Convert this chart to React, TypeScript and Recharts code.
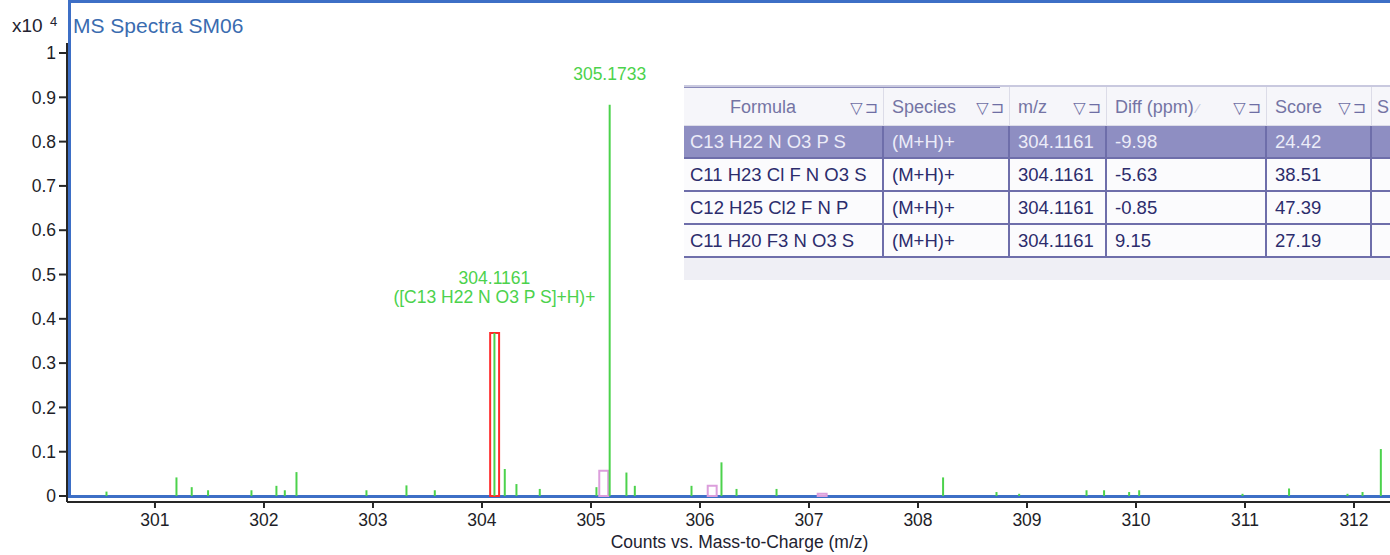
import React from 'react';
import { ComposedChart, Bar, XAxis, YAxis, ReferenceArea, LabelList } from 'recharts';

// ---- data (counts in units of x10^4) ----
const peakMz = [
  300.557, 301.199, 301.339, 301.489, 301.887, 302.116, 302.193, 302.3, 302.942, 303.309,
  303.569, 304.1161, 304.211, 304.318, 304.532, 305.052, 305.1733, 305.327, 305.404, 305.924,
  306.199, 306.337, 306.704, 308.232, 308.722, 308.93, 309.548, 309.709, 309.939, 310.031,
  310.979, 311.406, 311.942, 312.08, 312.248,
];
const peakCounts = [
  0.01, 0.042, 0.02, 0.013, 0.013, 0.023, 0.013, 0.054, 0.013, 0.024,
  0.013, 0.368, 0.061, 0.027, 0.016, 0.02, 0.883, 0.053, 0.023, 0.023,
  0.076, 0.016, 0.016, 0.042, 0.009, 0.005, 0.013, 0.013, 0.009, 0.013,
  0.005, 0.017, 0.005, 0.009, 0.106,
];

const annotatedMz = [304.1161, 305.1733];
const annotationLines = [['304.1161', '([C13 H22 N O3 P S]+H)+'], ['305.1733']];

const matchedMz = [304.1161];
const matchedCounts = [0.368];
const predictedMz = [305.117, 306.112, 307.121];
const predictedCounts = [0.057, 0.023, 0.005];

const xTicks = [301, 302, 303, 304, 305, 306, 307, 308, 309, 310, 311, 312];
const xTickLabels = ['301', '302', '303', '304', '305', '306', '307', '308', '309', '310', '311', '312'];
const yTicks = [0, 0.1, 0.2, 0.3, 0.4, 0.5, 0.6, 0.7, 0.8, 0.9, 1];
const yTickLabels = ['0', '0.1', '0.2', '0.3', '0.4', '0.5', '0.6', '0.7', '0.8', '0.9', '1'];

const tableHeaders = ['Formula', 'Species', 'm/z', 'Diff (ppm)', 'Score', 'S'];
const tableFormula = ['C13 H22 N O3 P S', 'C11 H23 Cl F N O3 S', 'C12 H25 Cl2 F N P', 'C11 H20 F3 N O3 S'];
const tableSpecies = ['(M+H)+', '(M+H)+', '(M+H)+', '(M+H)+'];
const tableMz = ['304.1161', '304.1161', '304.1161', '304.1161'];
const tableDiff = ['-9.98', '-5.63', '-0.85', '9.15'];
const tableScore = ['24.42', '38.51', '47.39', '27.19'];

const peakData = peakMz.map((mz, i) => ({ mz, counts: peakCounts[i] }));

// ---- styles ----
const FONT = '"Liberation Sans", Arial, sans-serif';
const GREEN = '#4cd24c';
const AXIS = '#262626';
const BOX_HALF_WIDTH = 0.041;
const colWidths = [200, 126, 97, 160, 105, 80];

const renderPeakLabel = (props: any) => {
  const { x, y, width, index } = props;
  const mz = peakData[index]?.mz;
  const j = annotatedMz.indexOf(mz);
  if (j < 0) return null;
  const lines = annotationLines[j];
  const cx = Number(x) + Number(width) / 2;
  const lastBaseline = Number(y) - 25 - 5 * (lines.length - 1);
  return (
    <g>
      {lines.map((t, k) => (
        <text
          key={k}
          x={cx}
          y={lastBaseline - (lines.length - 1 - k) * 19}
          textAnchor="middle"
          fill={GREEN}
          fontSize={17.5}
          fontFamily={FONT}
        >
          {t}
        </text>
      ))}
    </g>
  );
};

const HeaderIcon = () => (
  <span style={{ color: '#6e6ea4', fontSize: 16, fontFamily: '"DejaVu Sans", sans-serif', whiteSpace: 'nowrap' }}>
    ▽<span style={{ marginLeft: 2 }}>⊐</span>
  </span>
);

const ResultTable = () => {
  const rows = tableFormula.map((f, i) => [f, tableSpecies[i], tableMz[i], tableDiff[i], tableScore[i], '']);
  return (
    <div
      style={{
        position: 'absolute',
        left: 684,
        top: 85,
        width: 720,
        height: 195,
        background: '#efeff5',
        borderTop: '2px solid #c9c9df',
        boxSizing: 'border-box',
        fontFamily: FONT,
        overflow: 'hidden',
      }}
    >
      <div style={{ position: 'absolute', left: 0, top: 0, width: 316, height: 1, background: '#8a8aba' }} />
      {/* header */}
      <div style={{ display: 'flex', height: 39, background: '#f6f6fa', borderBottom: '1px solid #dcdce8', boxSizing: 'border-box' }}>
        {tableHeaders.map((h, c) => (
          <div
            key={c}
            style={{
              width: colWidths[c],
              flexShrink: 0,
              boxSizing: 'border-box',
              borderRight: c < 5 ? '1px solid #dcdce8' : 'none',
              display: 'flex',
              alignItems: 'center',
              justifyContent: c === 5 ? 'flex-start' : 'space-between',
              paddingLeft: c === 0 ? 46 : c === 5 ? 5 : 8,
              paddingRight: 5,
              paddingTop: 2,
              color: '#7474a4',
              fontSize: 18,
              whiteSpace: 'nowrap',
              overflow: 'hidden',
            }}
          >
            <span>
              {h}
              {c === 3 ? <span style={{ color: '#c0c0d8', fontSize: 13, marginLeft: 3 }}>⁄</span> : null}
            </span>
            {c < 5 ? <HeaderIcon /> : null}
          </div>
        ))}
      </div>
      {rows.map((r, i) => (
        <div
          key={i}
          style={{
            display: 'flex',
            height: 33,
            borderBottom: '2px solid #6e6eaa',
            boxSizing: 'border-box',
            background: i === 0 ? '#8e8ec2' : '#fbfbfd',
          }}
        >
          {r.map((v, c) => (
            <div
              key={c}
              style={{
                width: colWidths[c],
                flexShrink: 0,
                boxSizing: 'border-box',
                borderRight: c < 5 ? '2px solid #6e6eaa' : 'none',
                display: 'flex',
                alignItems: 'center',
                paddingLeft: c === 0 ? 6 : 8,
                color: i === 0 ? '#ececf8' : '#2c2c6c',
                fontSize: 18.5,
                whiteSpace: 'nowrap',
                overflow: 'hidden',
              }}
            >
              {v}
            </div>
          ))}
        </div>
      ))}
    </div>
  );
};

export default function App() {
  return (
    <div style={{ position: 'absolute', left: 0, top: 0, width: 1390, height: 555, overflow: 'hidden', background: '#ffffff' }}>
      {/* selected panel frame */}
      <div
        style={{
          position: 'absolute',
          left: 68,
          top: 0,
          width: 1400,
          height: 492,
          border: '3px solid #3d6fc6',
        }}
      />
      <div style={{ position: 'absolute', left: 0, top: 0 }}>
        <ComposedChart
          width={1400}
          height={555}
          data={peakData}
          margin={{ top: 43, right: 0, bottom: 3, left: 7 }}
          style={{ fontFamily: FONT }}
        >
          <XAxis
            type="number"
            dataKey="mz"
            domain={[300.193, 312.422]}
            allowDataOverflow
            ticks={xTicks}
            interval={0}
            tickFormatter={(v: number, i: number) => xTickLabels[i] ?? String(v)}
            height={50}
            tickSize={6}
            tickMargin={6}
            axisLine={{ stroke: AXIS, strokeWidth: 2 }}
            tickLine={{ stroke: AXIS, strokeWidth: 2 }}
            tick={{ fill: '#1e1e28', fontSize: 17.5, fontFamily: FONT }}
            label={{
              value: 'Counts vs. Mass-to-Charge (m/z)',
              position: 'insideBottom',
              offset: 4,
              dx: 6,
              fill: '#222230',
              fontSize: 17.5,
              fontFamily: FONT,
            }}
          />
          <YAxis
            type="number"
            domain={[-0.0135, 1.0226]}
            allowDataOverflow
            ticks={yTicks}
            interval={0}
            tickFormatter={(v: number, i: number) => yTickLabels[i] ?? String(v)}
            width={60}
            tickSize={8}
            tickMargin={3}
            axisLine={{ stroke: AXIS, strokeWidth: 2 }}
            tickLine={{ stroke: AXIS, strokeWidth: 2 }}
            tick={{ fill: '#1e1e28', fontSize: 17.5, fontFamily: FONT }}
          />
          {predictedMz.map((mz, i) => (
            <ReferenceArea
              key={'p' + i}
              x1={mz - BOX_HALF_WIDTH}
              x2={mz + BOX_HALF_WIDTH}
              y1={0}
              y2={predictedCounts[i]}
              fill="none"
              stroke="#dc9edc"
              strokeWidth={2}
              ifOverflow="visible"
            />
          ))}
          {matchedMz.map((mz, i) => (
            <ReferenceArea
              key={'m' + i}
              x1={mz - BOX_HALF_WIDTH}
              x2={mz + BOX_HALF_WIDTH}
              y1={0}
              y2={matchedCounts[i]}
              fill="none"
              stroke="#ff2a2a"
              strokeWidth={2}
              ifOverflow="visible"
            />
          ))}
          <Bar dataKey="counts" barSize={2} fill={GREEN} isAnimationActive={false}>
            <LabelList dataKey="counts" content={renderPeakLabel} />
          </Bar>
        </ComposedChart>
      </div>
      {/* title and exponent */}
      <svg width={1390} height={555} style={{ position: 'absolute', left: 0, top: 0, pointerEvents: 'none' }}>
        <text x={73} y={33} fill="#3a6cb0" fontSize={21} fontFamily={FONT}>
          MS Spectra SM06
        </text>
        <text x={12} y={32} fill="#222230" fontSize={19} fontFamily={FONT}>
          x10
        </text>
        <text x={50} y={26} fill="#222230" fontSize={13} fontFamily={FONT}>
          4
        </text>
      </svg>
      <ResultTable />
    </div>
  );
}
